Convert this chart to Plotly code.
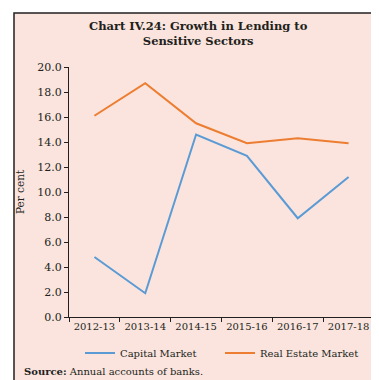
import plotly.graph_objects as go

years = ["2012-13", "2013-14", "2014-15", "2015-16", "2016-17", "2017-18"]
capital_market = [4.8, 1.9, 14.6, 12.9, 7.9, 11.2]
real_estate = [16.1, 18.7, 15.5, 13.9, 14.3, 13.9]
y_ticks = [0, 2, 4, 6, 8, 10, 12, 14, 16, 18, 20]

FONT = "DejaVu Serif"
BG = "#FAE4DD"

fig = go.Figure()
fig.add_trace(go.Scatter(x=years, y=capital_market, mode="lines", name="Capital Market",
                         line=dict(color="#5B9BD5", width=2)))
fig.add_trace(go.Scatter(x=years, y=real_estate, mode="lines", name="Real Estate Market",
                         line=dict(color="#ED7D31", width=2)))

L, R, T, B = 61, 13, 59, 71
W, H = 379, 380
pw, ph = W - L - R, H - T - B

def px_x(p):
    return (p - L) / pw

def px_y(p):
    return (H - B - p) / ph

fig.add_shape(type="rect", xref="paper", yref="paper",
              x0=px_x(6), x1=px_x(374), y0=px_y(373), y1=px_y(5),
              fillcolor=BG, line=dict(color="#231F20", width=1.5), layer="below")

fig.add_annotation(xref="paper", yref="paper", x=px_x(190), y=px_y(25),
                   text="<b>Chart IV.24: Growth in Lending to<br>Sensitive Sectors</b>",
                   showarrow=False, font=dict(family=FONT, size=11.5, color="#231F20"),
                   xanchor="center", yanchor="middle")
fig.add_annotation(xref="paper", yref="paper", x=px_x(14), y=px_y(363),
                   text="<b>Source:</b> Annual accounts of banks.",
                   showarrow=False, font=dict(family=FONT, size=10, color="#231F20"),
                   xanchor="left", yanchor="middle")

fig.update_layout(
    width=W, height=H,
    margin=dict(l=L, r=R, t=T, b=B, pad=0),
    paper_bgcolor="white", plot_bgcolor="rgba(0,0,0,0)",
    font=dict(family=FONT, size=10, color="#231F20"),
    showlegend=True,
    legend=dict(orientation="h", x=px_x(72), y=px_y(345), xanchor="left", yanchor="middle",
                bgcolor="rgba(0,0,0,0)", font=dict(family=FONT, size=10),
                entrywidth=95, entrywidthmode="pixels", itemwidth=30, tracegroupgap=0),
    xaxis=dict(type="category", range=[-0.5, 5.5], showline=True, linecolor="#231F20", linewidth=1,
               ticks="outside", ticklen=4, tickcolor="#231F20", tickson="boundaries",
               tickangle=0, showgrid=False, zeroline=False, tickfont=dict(family=FONT, size=10)),
    yaxis=dict(range=[0, 20], tickvals=y_ticks, ticktext=[f"{v:.1f}" for v in y_ticks],
               showline=True, linecolor="#231F20", linewidth=1, ticks="outside", ticklen=4,
               tickcolor="#231F20", showgrid=False, zeroline=False,
               title=dict(text="Per cent", font=dict(family=FONT, size=10.5), standoff=10),
               tickfont=dict(family=FONT, size=11)),
)

fig.write_html("out.html")
